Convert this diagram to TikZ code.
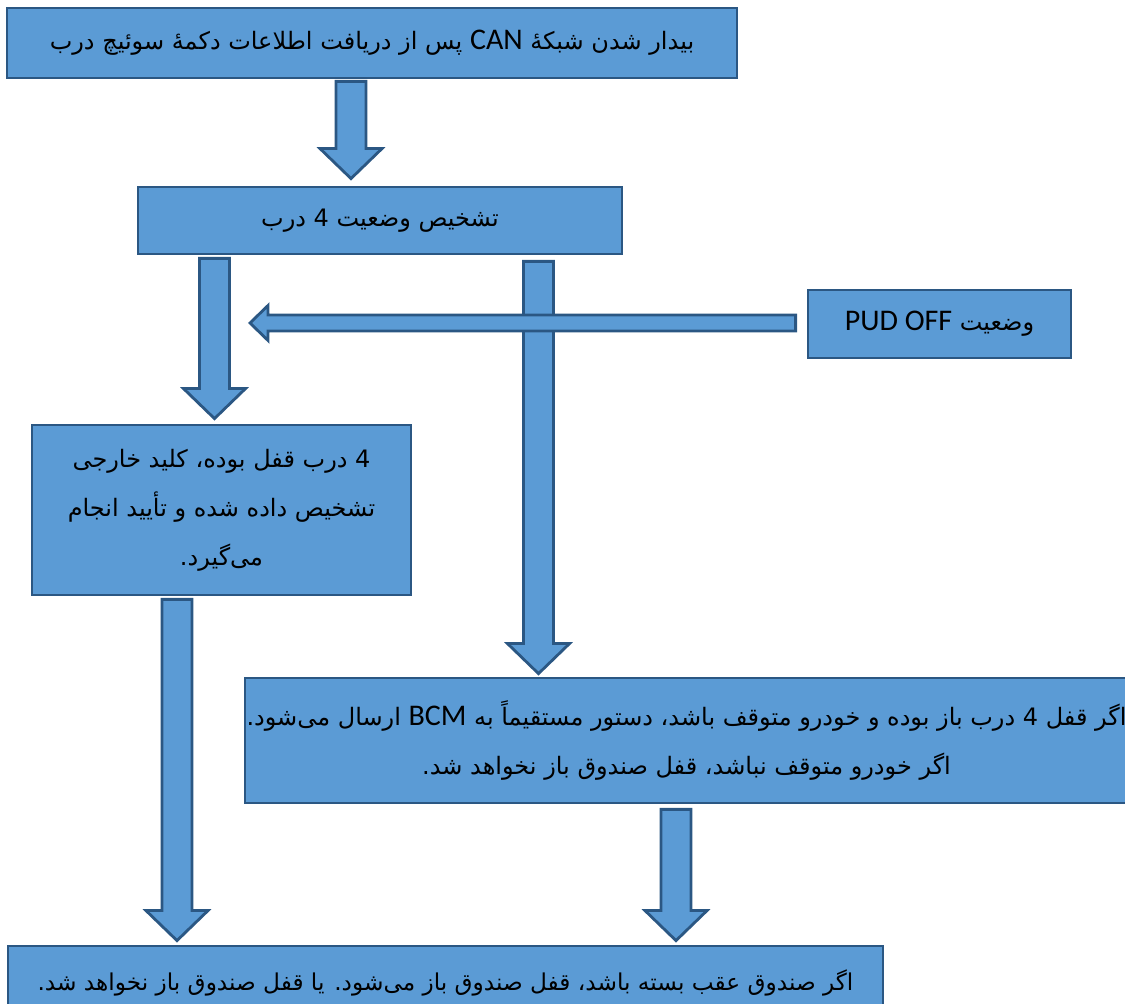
\documentclass[tikz,border=0pt]{standalone}
\usepackage{fontspec}
\newfontfamily\fafont[Script=Arabic]{DejaVu Sans}
\newfontfamily\enfont{Carlito}
\TeXXeTstate=1
\usetikzlibrary{calc}
\definecolor{flowfill}{HTML}{5B9BD5}
\definecolor{flowedge}{HTML}{2B5783}
\newcommand{\lat}[1]{{\enfont\fontsize{15}{24.5}\selectfont\beginL #1\endL}}

\begin{document}
\begin{tikzpicture}[
  x=0.5pt, y=-0.5pt,
  stagebox/.style={
    draw=flowedge, line width=1.4pt, fill=flowfill,
    font=\fafont\fontsize{12}{24.5}\selectfont, align=center,
    inner sep=0pt, text=black},
  barrow/.style={draw=flowedge, line width=1.4pt, fill=flowfill, line join=miter},
]
  \useasboundingbox (0,0) rectangle (1125,1004);

  %% ---- Boxes ----
  \node[stagebox, minimum width=365pt, minimum height=35pt] (wake) at (372,43)
    {\beginR بیدار شدن شبکهٔ \lat{CAN} پس از دریافت اطلاعات دکمهٔ سوئیچ درب\endR};
  \node[stagebox, minimum width=242pt, minimum height=33.5pt] (diag) at (380,220.5)
    {\beginR تشخیص وضعیت 4 درب\endR};
  \node[stagebox, minimum width=131.5pt, minimum height=34pt] (pud) at (939.5,324)
    {\beginR وضعیت \lat{PUD OFF}\endR};
  \node[stagebox, minimum width=189.5pt, minimum height=85pt] (locked) at (221.5,510)
    {\beginR 4 درب قفل بوده، کلید خارجی\endR\\
     \beginR تشخیص داده شده و تأیید انجام\endR\\
     \beginR می‌گیرد.\endR};
  \node[stagebox, minimum width=441.5pt, minimum height=62.5pt] (open) at (686.5,740.5)
    {\beginR اگر قفل 4 درب باز بوده و خودرو متوقف باشد، دستور مستقیماً به \lat{BCM} ارسال می‌شود.\endR\\
     \beginR اگر خودرو متوقف نباشد، قفل صندوق باز نخواهد شد.\endR};
  \node[stagebox, minimum width=437.5pt, minimum height=37pt,
        font=\fafont\fontsize{11.6}{24.5}\selectfont] (trunk) at (445.5,983)
    {\beginR اگر صندوق عقب بسته باشد، قفل صندوق باز می‌شود. یا قفل صندوق باز نخواهد شد.\endR};

  %% ---- Arrow ends ----
  \coordinate (a1s) at ($(wake.south)+(-21,2)$);
  \coordinate (a1e) at ($(a1s |- diag.north)+(0,-7)$);
  \coordinate (a2s) at ($(diag.south)+(-165.5,3)$);
  \coordinate (a2e) at ($(a2s |- locked.north)+(0,-5)$);
  \coordinate (a3s) at ($(diag.south)+(158.5,6)$);
  \coordinate (a3e) at ($(a3s |- open.north)+(0,-3)$);
  \coordinate (a4s) at ($(locked.south)+(-44.5,3)$);
  \coordinate (a4e) at ($(a4s |- trunk.north)+(0,-4)$);
  \coordinate (a5s) at ($(open.south)+(-10.5,5)$);
  \coordinate (a5e) at ($(a5s |- trunk.north)+(0,-4)$);
  \coordinate (hs) at ($(pud.west)+(-11,-1)$);
  \coordinate (he) at (250,323);

  %% ---- Down arrows ----
  \foreach \s/\e in {a1s/a1e,a2s/a2e,a3s/a3e,a4s/a4e,a5s/a5e}{
    \draw[barrow] let \p1=(\s), \p2=(\e) in
      (\x1-7.5pt,\y1) -- (\x1-7.5pt,\y2+15pt) -- (\x1-15.5pt,\y2+15pt) -- (\x1,\y2)
      -- (\x1+15.5pt,\y2+15pt) -- (\x1+7.5pt,\y2+15pt) -- (\x1+7.5pt,\y1) -- cycle;
  }

  %% ---- PUD arrow (on top) ----
  \draw[barrow] let \p1=(hs), \p2=(he) in
    (\x1,\y1+4pt) -- (\x2+9pt,\y1+4pt) -- (\x2+9pt,\y1+8.75pt) -- (\x2,\y1)
    -- (\x2+9pt,\y1-8.75pt) -- (\x2+9pt,\y1-4pt) -- (\x1,\y1-4pt) -- cycle;

\end{tikzpicture}
\end{document}
